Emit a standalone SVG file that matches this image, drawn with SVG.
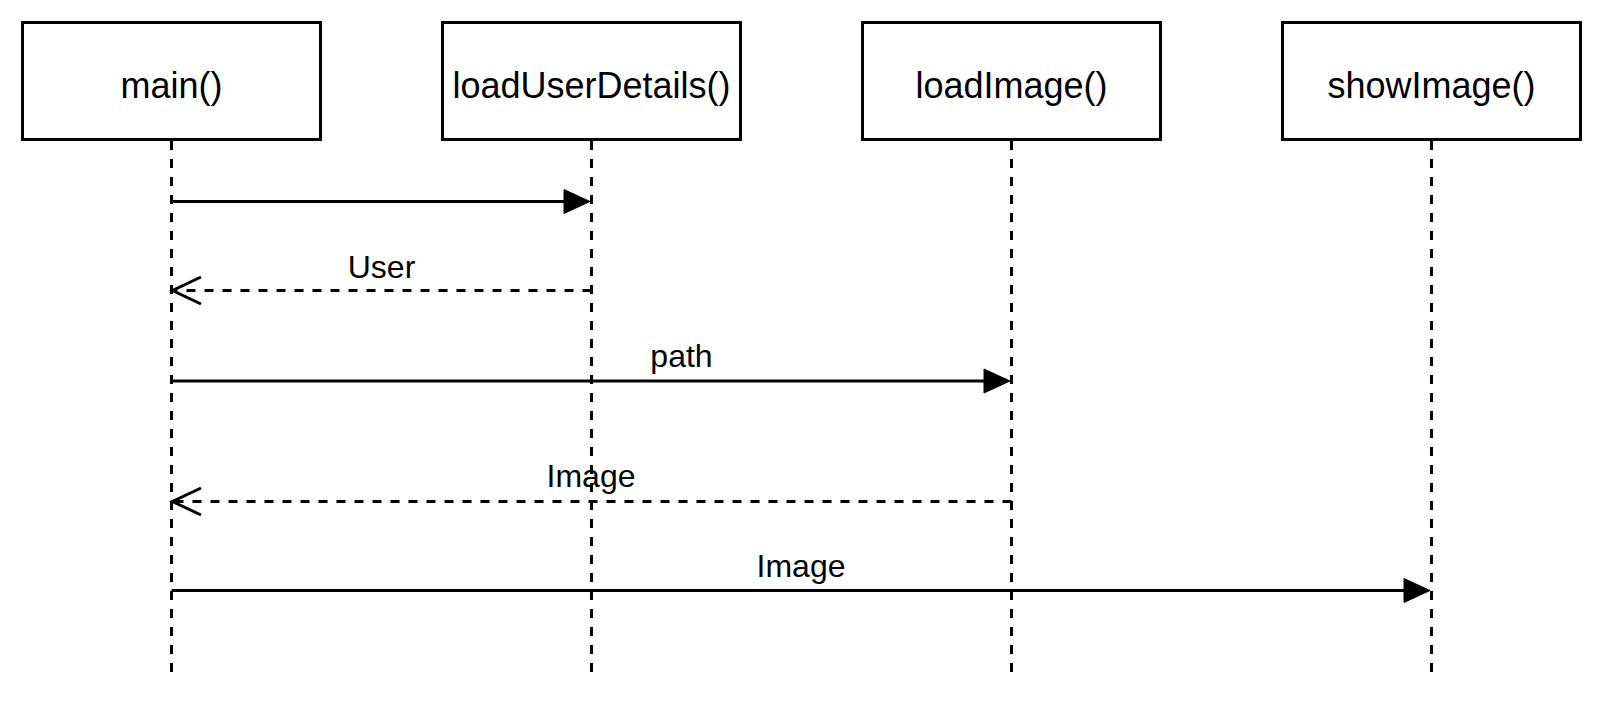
<svg xmlns="http://www.w3.org/2000/svg" width="1602" height="704" viewBox="0 0 1602 704">
<style>
.box{fill:#fff;stroke:#000;stroke-width:3}
.life{stroke:#000;stroke-width:3;stroke-dasharray:9 9;fill:none}
.msg{stroke:#000;stroke-width:3;fill:none}
.ret{stroke:#000;stroke-width:3;fill:none;stroke-dasharray:9 9}
.open{stroke:#000;stroke-width:3;fill:none}
.head{fill:#000;stroke:#000;stroke-width:1}
.nt{font-family:"Liberation Sans",Arial,sans-serif;font-size:36px;fill:#000;text-anchor:middle}
.lt{font-family:"Liberation Sans",Arial,sans-serif;font-size:32px;fill:#000;text-anchor:middle}
</style>
<rect width="1602" height="704" fill="#fff"/>
<g id="node-main">
<line class="life" x1="171.5" y1="141" x2="171.5" y2="672"/>
<rect class="box" x="22.5" y="22.5" width="298" height="117"/>
<text class="nt" x="171.5" y="98">main()</text>
</g>
<g id="node-loadUserDetails">
<line class="life" x1="591.5" y1="141" x2="591.5" y2="672"/>
<rect class="box" x="442.5" y="22.5" width="298" height="117"/>
<text class="nt" x="591.5" y="98">loadUserDetails()</text>
</g>
<g id="node-loadImage">
<line class="life" x1="1011.5" y1="141" x2="1011.5" y2="672"/>
<rect class="box" x="862.5" y="22.5" width="298" height="117"/>
<text class="nt" x="1011.5" y="98">loadImage()</text>
</g>
<g id="node-showImage">
<line class="life" x1="1431.5" y1="141" x2="1431.5" y2="672"/>
<rect class="box" x="1282.5" y="22.5" width="298" height="117"/>
<text class="nt" x="1431.5" y="98">showImage()</text>
</g>
<g id="connectors">
<line class="msg" x1="171.5" y1="201.5" x2="566" y2="201.5"/>
<polygon class="head" points="590,201.5 564,189.5 564,213.5"/>
<line class="ret" x1="591.5" y1="290.5" x2="173" y2="290.5"/>
<polyline class="open" points="201,277 172.5,290.5 201,304"/>
<text class="lt" x="381.5" y="278">User</text>
<line class="msg" x1="171.5" y1="381" x2="986" y2="381"/>
<polygon class="head" points="1010,381 984,369 984,393"/>
<text class="lt" x="681.5" y="366.5">path</text>
<line class="ret" x1="1011.5" y1="501.5" x2="173" y2="501.5"/>
<polyline class="open" points="201,488 172.5,501.5 201,515"/>
<text class="lt" x="591" y="486.5">Image</text>
<line class="msg" x1="171.5" y1="590.5" x2="1406" y2="590.5"/>
<polygon class="head" points="1430,590.5 1404,578.5 1404,602.5"/>
<text class="lt" x="801" y="576.5">Image</text>
</g>
</svg>
